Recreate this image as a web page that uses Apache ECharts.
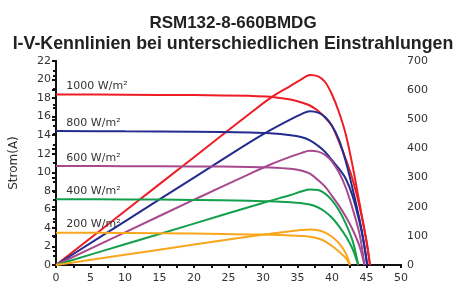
<!DOCTYPE html>
<html>
<head>
<meta charset="utf-8">
<script src="https://cdn.jsdelivr.net/npm/echarts@6/dist/echarts.min.js"></script>
<style>
  html, body { margin: 0; padding: 0; background: #fff; }
  #chart { width: 466px; height: 303px; }
</style>
</head>
<body>
<div id="chart"></div>
<script>
// spannung (V) je kurve, strom (A) und leistung (W)
const vRed = [0, 10, 20, 28, 31, 34, 35.5, 36.8, 38, 39, 40, 41, 42, 43, 44, 45, 45.5]
const iRed = [18.4, 18.36, 18.32, 18.24, 18.15, 17.85, 17.55, 17.2, 16.6, 15.9, 15.0, 13.3, 11.4, 9.2, 6.3, 2.6, 0]
const pRed = [0, 185, 370, 518, 572, 615, 636, 652, 647, 628, 585, 525, 448, 338, 210, 80, 0]

const vBlue = [0, 10, 20, 28, 31, 34, 35.5, 36.8, 38, 39, 40, 41, 42, 43, 44, 44.6, 45.1]
const iBlue = [14.45, 14.42, 14.38, 14.28, 14.2, 14.0, 13.8, 13.45, 12.85, 12.2, 11.3, 10.4, 9.3, 7.4, 4.6, 2.4, 0]
const pBlue = [0, 150, 300, 420, 462, 500, 517, 528, 523, 508, 478, 430, 355, 260, 155, 80, 0]

const vPurple = [0, 10, 20, 28, 31, 34, 35.5, 36.8, 38, 39, 40, 41, 42, 43, 44, 44.7]
const iPurple = [10.68, 10.66, 10.63, 10.58, 10.52, 10.38, 10.2, 9.85, 9.15, 8.45, 7.45, 6.4, 5.2, 3.8, 2.0, 0]
const pPurple = [0, 112, 224, 312, 344, 372, 384, 392, 389, 378, 355, 318, 265, 192, 105, 0]

const vGreen = [0, 10, 20, 28, 31, 34, 35.5, 36.8, 38, 39, 40, 41, 42, 43, 43.8]
const iGreen = [7.09, 7.07, 7.02, 6.92, 6.88, 6.78, 6.68, 6.52, 6.2, 5.75, 5.1, 4.2, 3.1, 1.7, 0]
const pGreen = [0, 71, 142, 199, 220, 240, 252, 259, 257, 245, 222, 188, 142, 82, 0]

const vOrange = [0, 10, 20, 28, 31, 34, 35.5, 36.8, 38, 39, 40, 41, 42, 42.6]
const iOrange = [3.49, 3.46, 3.4, 3.3, 3.25, 3.19, 3.14, 3.05, 2.85, 2.55, 2.05, 1.45, 0.75, 0]
const pOrange = [0, 35, 70, 98, 107, 116, 120, 122, 119, 111, 97, 75, 40, 0]

const curveNames = ['1000 W/m²', '800 W/m²', '600 W/m²', '400 W/m²', '200 W/m²']
const curveColors = ['#ee1c25', '#232c8e', '#a8488f', '#13a04c', '#f9a61c']
const volts = [vRed, vBlue, vPurple, vGreen, vOrange]
const currents = [iRed, iBlue, iPurple, iGreen, iOrange]
const powers = [pRed, pBlue, pPurple, pGreen, pOrange]

const xTicks = { min: 0, max: 50, step: 5 }
const leftTicks = { min: 0, max: 22, step: 2 }
const rightTicks = { min: 0, max: 700, step: 100 }

const font = 'DejaVu Sans'
const textColor = '#333'

function pairs (xs, ys) {
  return xs.map((x, k) => [x, ys[k]])
}

const chart = echarts.init(document.getElementById('chart'))

const series = []
curveNames.forEach((name, k) => {
  series.push({
    name: name,
    type: 'line',
    xAxisIndex: 0,
    yAxisIndex: 0,
    smooth: 0.35,
    showSymbol: false,
    lineStyle: { color: curveColors[k], width: 2 },
    data: pairs(volts[k], currents[k]),
    markPoint: {
      silent: true,
      symbol: 'circle',
      symbolSize: 0,
      label: {
        show: true,
        position: 'right',
        distance: 0,
        offset: [0, -8],
        formatter: name,
        color: textColor,
        fontFamily: font,
        fontSize: 11
      },
      data: [{ coord: [1.5, currents[k][0]] }]
    }
  })
  series.push({
    name: name + ' P',
    type: 'line',
    xAxisIndex: 0,
    yAxisIndex: 1,
    smooth: 0.35,
    showSymbol: false,
    lineStyle: { color: curveColors[k], width: 2 },
    data: pairs(volts[k], powers[k])
  })
})

const option = {
  animation: false,
  title: [{
    text: 'RSM132-8-660BMDG',
    left: 'center',
    top: 10,
    textStyle: { fontFamily: 'Liberation Sans', fontWeight: 'bold', fontSize: 17, color: '#222' }
  }, {
    text: 'I-V-Kennlinien bei unterschiedlichen Einstrahlungen',
    left: 'center',
    top: 30,
    textStyle: { fontFamily: 'Liberation Sans', fontWeight: 'bold', fontSize: 17.8, color: '#222' }
  }],
  grid: { left: 55, right: 65, top: 61, bottom: 38 },
  xAxis: [{
    type: 'value',
    position: 'bottom',
    min: xTicks.min,
    max: xTicks.max,
    interval: xTicks.step,
    axisLine: { lineStyle: { color: '#111', width: 2 } },
    axisTick: { show: true, length: 3, lineStyle: { color: '#111', width: 2 } },
    axisLabel: { color: textColor, fontFamily: font, fontSize: 11, margin: 8 },
    splitLine: { show: false }
  }, {
    type: 'value',
    position: 'top',
    min: xTicks.min,
    max: xTicks.max,
    interval: xTicks.step / 2,
    axisLine: { show: true, lineStyle: { color: '#111', width: 2 } },
    axisTick: { show: true, inside: true, length: 3, lineStyle: { color: '#111', width: 2 } },
    axisLabel: { show: false },
    splitLine: { show: false }
  }],
  yAxis: [{
    type: 'value',
    position: 'left',
    min: leftTicks.min,
    max: leftTicks.max,
    interval: leftTicks.step,
    name: 'Strom(A)',
    nameLocation: 'middle',
    nameGap: 36,
    nameTextStyle: { color: textColor, fontFamily: font, fontSize: 12 },
    axisLine: { show: true, lineStyle: { color: '#111', width: 2 } },
    axisTick: { show: true, length: 4, lineStyle: { color: '#111', width: 2 } },
    minorTick: { show: true, splitNumber: 2, length: 3, lineStyle: { color: '#111', width: 2 } },
    axisLabel: { color: textColor, fontFamily: font, fontSize: 11, margin: 5 },
    splitLine: { show: false }
  }, {
    type: 'value',
    position: 'right',
    min: rightTicks.min,
    max: rightTicks.max,
    interval: rightTicks.step,
    axisLine: { show: true, lineStyle: { color: '#111', width: 2 } },
    axisTick: { show: true, inside: true, length: 4, lineStyle: { color: '#111', width: 2 } },
    minorTick: { show: true, splitNumber: 2, length: 3, lineStyle: { color: '#111', width: 2 } },
    axisLabel: { color: textColor, fontFamily: font, fontSize: 11, margin: 6 },
    splitLine: { show: false }
  }],
  series: series
}

chart.setOption(option)
</script>
</body>
</html>
